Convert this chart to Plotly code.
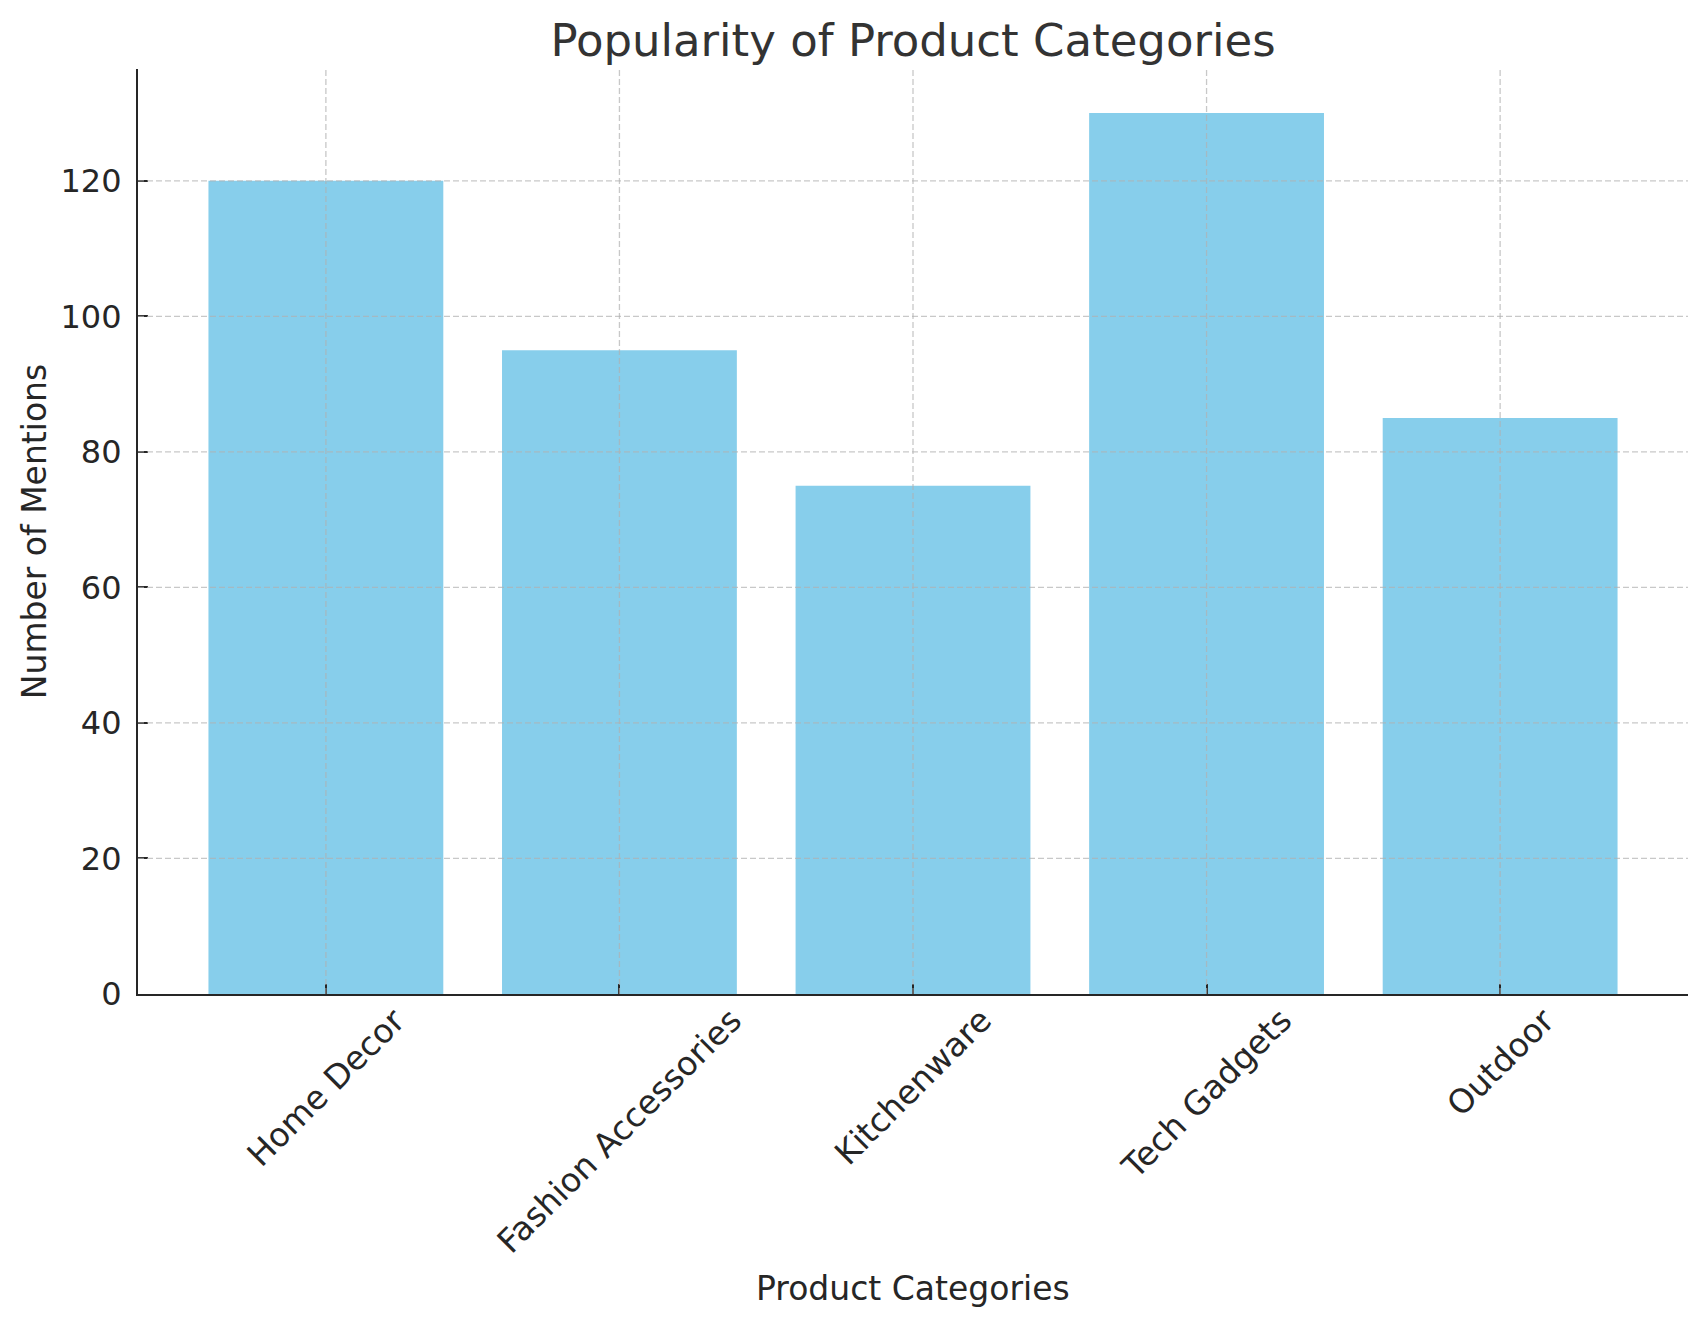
import plotly.graph_objects as go

categories = ["Home Decor", "Fashion Accessories", "Kitchenware", "Tech Gadgets", "Outdoor"]
mentions = [120, 95, 75, 130, 85]
y_ticks = [0, 20, 40, 60, 80, 100, 120]

FONT = "DejaVu Sans"
TXT = "#262626"
GRID = "rgba(176,176,176,0.7)"

fig = go.Figure()
fig.add_trace(go.Bar(x=categories, y=mentions, marker=dict(color="#87CEEB", line=dict(width=0)),
                     width=0.8, hoverinfo="x+y"))

shapes = []
for v in y_ticks[1:]:
    shapes.append(dict(type="line", xref="paper", x0=0, x1=1, yref="y", y0=v, y1=v,
                       line=dict(color=GRID, width=1.3, dash="6px,3px"), layer="above"))
for c in categories:
    shapes.append(dict(type="line", xref="x", x0=c, x1=c, yref="paper", y0=0, y1=1,
                       line=dict(color=GRID, width=1.3, dash="6px,3px"), layer="above"))

annotations = []
for c in categories:
    annotations.append(dict(x=c, xref="x", y=0, yref="paper", text=c, showarrow=False,
                            textangle=-45, xanchor="center", yanchor="top", yshift=-4,
                            font=dict(family=FONT, size=33, color=TXT)))
annotations.append(dict(x=0.5, xref="paper", y=0, yref="paper", text="Product Categories",
                        showarrow=False, xanchor="center", yanchor="middle", yshift=-294,
                        font=dict(family=FONT, size=33, color=TXT)))

fig.update_layout(
    width=1707, height=1326,
    margin=dict(l=138, r=19, t=69, b=332),
    paper_bgcolor="white", plot_bgcolor="white",
    showlegend=False,
    bargap=0.2,
    title=dict(text="Popularity of Product Categories", x=0.5, xref="paper", xanchor="center",
               y=1 - 40 / 1326, yref="container", yanchor="middle",
               font=dict(family=FONT, size=45, color="#333333")),
    xaxis=dict(range=[-0.64, 4.64], showgrid=False, showticklabels=False,
               ticks="inside", ticklen=10, tickwidth=2, tickcolor=TXT,
               showline=True, linecolor=TXT, linewidth=2.2, zeroline=False, layer="above traces"),
    yaxis=dict(range=[0, 136.5], tickvals=y_ticks, showgrid=False,
               ticks="inside", ticklen=10, tickwidth=2, tickcolor=TXT,
               showline=True, linecolor=TXT, linewidth=2.2, zeroline=False,
               tickfont=dict(family=FONT, size=32, color=TXT), ticklabelstandoff=8,
               title=dict(text="Number of Mentions", standoff=4,
                          font=dict(family=FONT, size=33, color=TXT)),
               layer="above traces"),
    shapes=shapes,
    annotations=annotations,
)

fig.write_html("out.html")
